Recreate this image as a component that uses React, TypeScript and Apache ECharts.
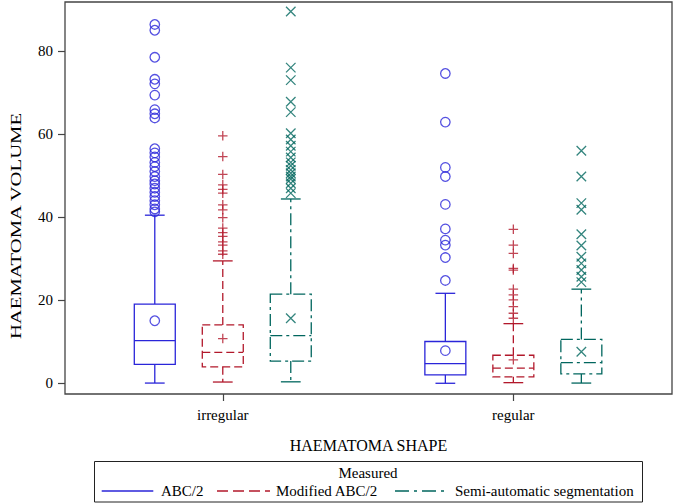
import React, { useEffect, useRef } from 'react';
import * as echarts from 'echarts';

// ---------- data ----------
const categories = ['irregular', 'regular'];
const methods = ['ABC/2', 'Modified ABC/2', 'Semi-automatic segmentation'];
const yTicks = [0, 20, 40, 60, 80];

// box stats per category: [min, q1, median, q3, max]
const abcBox = [
  [0.1, 4.6, 10.3, 19.1, 40.5],
  [0.05, 2.05, 4.8, 10.1, 21.7],
];
const abcMean = [15.1, 7.9];
const modBox = [
  [0.35, 4.0, 7.5, 14.1, 29.5],
  [0.2, 1.6, 3.7, 6.8, 14.4],
];
const modMean = [10.8, 5.7];
const semiBox = [
  [0.4, 5.4, 11.5, 21.5, 44.4],
  [0.1, 2.3, 5.0, 10.6, 22.7],
];
const semiMean = [15.7, 7.65];

// outliers per category
const abcOutliers = [
  [86.4, 85.0, 78.5, 73.2, 72.1, 69.4, 65.9, 64.9, 63.9, 56.5, 55.5, 54.5, 53.2, 52.2, 51.0, 49.8, 48.8, 48.0, 47.0, 46.0, 45.0, 44.0, 43.0, 42.0, 41.3],
  [74.6, 62.9, 52.0, 49.8, 43.1, 37.2, 34.5, 33.3, 30.3, 24.8],
];
const modOutliers = [
  [59.6, 54.6, 50.3, 47.8, 46.7, 45.8, 43.0, 41.8, 39.9, 37.4, 36.3, 35.4, 34.1, 33.3, 31.9, 31.1],
  [37.1, 33.3, 31.3, 27.7, 27.3, 22.7, 21.3, 20.1, 18.5, 16.9, 15.7],
];
const semiOutliers = [
  [89.5, 76.0, 73.0, 67.8, 65.3, 60.2, 58.7, 57.2, 55.8, 54.4, 53.2, 52.4, 51.4, 50.6, 49.8, 49.2, 48.2, 47.0, 45.8],
  [56.0, 49.8, 43.4, 41.8, 35.9, 33.2, 30.5, 28.9, 27.3, 25.7, 24.4],
];

// ---------- styles ----------
const FONT = 'Liberation Serif';
const COLORS = ['#2A25D9', '#B2182B', '#01665E'];
const OFFSETS = [-0.234, 0, 0.234];
const DASHES: any[] = [null, [8, 4], [12, 4, 3, 4]];
const LEGEND_DASHES: any[] = [null, [11, 5], [14, 5, 3, 5]];
const SYMBOLS = ['circle', 'path://M5,0L5,10M0,5L10,5', 'path://M0,0L10,10M10,0L0,10'];
const BOX_HALF = 0.0705;
const CAP_HALF = 0.034;
const LW = 1.3;

const allBoxes = [abcBox, modBox, semiBox];
const allMeans = [abcMean, modMean, semiMean];
const allOutliers = [abcOutliers, modOutliers, semiOutliers];

function buildSeries() {
  const series: any[] = [];
  methods.forEach((name, m) => {
    const color = COLORS[m];
    const dash = DASHES[m];
    const data = allBoxes[m].map((b, c) => [c + OFFSETS[m], ...b]);
    series.push({
      type: 'custom',
      name: name,
      data,
      encode: { x: 0, y: [1, 2, 3, 4, 5] },
      silent: true,
      renderItem: (params: any, api: any) => {
        const xc = api.value(0);
        const mn = api.value(1), q1 = api.value(2), md = api.value(3), q3 = api.value(4), mx = api.value(5);
        const style = { stroke: color, lineWidth: LW, fill: 'none', lineDash: dash };
        const solid = { stroke: color, lineWidth: LW, fill: 'none' };
        const tl = api.coord([xc - BOX_HALF, q3]);
        const br = api.coord([xc + BOX_HALF, q1]);
        const mL = api.coord([xc - BOX_HALF, md]);
        const mR = api.coord([xc + BOX_HALF, md]);
        const cTop = api.coord([xc, q3]);
        const cMax = api.coord([xc, mx]);
        const cBot = api.coord([xc, q1]);
        const cMin = api.coord([xc, mn]);
        const capL1 = api.coord([xc - CAP_HALF, mx]);
        const capR1 = api.coord([xc + CAP_HALF, mx]);
        const capL2 = api.coord([xc - CAP_HALF, mn]);
        const capR2 = api.coord([xc + CAP_HALF, mn]);
        return {
          type: 'group',
          children: [
            { type: 'rect', shape: { x: tl[0], y: tl[1], width: br[0] - tl[0], height: br[1] - tl[1] }, style },
            { type: 'line', shape: { x1: mL[0], y1: mL[1], x2: mR[0], y2: mR[1] }, style },
            { type: 'line', shape: { x1: cTop[0], y1: cTop[1], x2: cMax[0], y2: cMax[1] }, style },
            { type: 'line', shape: { x1: cBot[0], y1: cBot[1], x2: cMin[0], y2: cMin[1] }, style },
            { type: 'line', shape: { x1: capL1[0], y1: capL1[1], x2: capR1[0], y2: capR1[1] }, style: solid },
            { type: 'line', shape: { x1: capL2[0], y1: capL2[1], x2: capR2[0], y2: capR2[1] }, style: solid },
          ],
        };
      },
      z: 2,
    });
    const pts: number[][] = [];
    allMeans[m].forEach((v, c) => pts.push([c + OFFSETS[m], v]));
    allOutliers[m].forEach((arr, c) => arr.forEach((v) => pts.push([c + OFFSETS[m], v])));
    series.push({
      type: 'scatter',
      name: name + ' points',
      data: pts,
      symbol: SYMBOLS[m],
      symbolSize: 9.5,
      silent: true,
      itemStyle: { color: 'rgba(0,0,0,0)', borderColor: color, borderWidth: LW },
      z: 3,
    });
  });
  return series;
}

function buildLegendGraphic() {
  const rowY = 491;
  const lines = [
    [101.7, 153.3, 161],
    [217, 270, 276],
    [395, 445, 455],
  ];
  const els: any[] = [
    {
      type: 'rect',
      shape: { x: 94.5, y: 461.5, width: 548, height: 40.5 },
      style: { fill: 'none', stroke: '#222', lineWidth: 1 },
    },
    {
      type: 'text',
      x: 368,
      y: 473,
      style: { text: 'Measured', fontFamily: FONT, fontSize: 15, fill: '#000', textAlign: 'center', textVerticalAlign: 'middle' },
    },
  ];
  methods.forEach((name, m) => {
    const [x1, x2, tx] = lines[m];
    els.push({
      type: 'line',
      shape: { x1, y1: rowY, x2, y2: rowY },
      style: { stroke: COLORS[m], lineWidth: LW, lineDash: LEGEND_DASHES[m] },
    });
    els.push({
      type: 'text',
      x: tx,
      y: rowY,
      style: { text: name, fontFamily: FONT, fontSize: 15, fill: '#000', textAlign: 'left', textVerticalAlign: 'middle' },
    });
  });
  // y-axis title (stretched along its length like the reference)
  els.push({
    type: 'text',
    x: 16,
    y: 226,
    rotation: Math.PI / 2,
    scaleX: 1.38,
    style: { text: 'HAEMATOMA VOLUME', fontFamily: FONT, fontSize: 15, fill: '#000', textAlign: 'center', textVerticalAlign: 'middle' },
  });
  return els;
}

export default function App() {
  const ref = useRef<HTMLDivElement>(null);
  useEffect(() => {
    if (!ref.current) return;
    const chart = echarts.init(ref.current, undefined, { renderer: 'svg' });
    const axisText = { fontFamily: FONT, fontSize: 15, color: '#000' };
    chart.setOption({
      animation: false,
      backgroundColor: '#fff',
      textStyle: { fontFamily: FONT },
      grid: {
        left: 65,
        right: 3,
        top: 2,
        bottom: 110,
        show: true,
        borderColor: '#444',
        borderWidth: 1.3,
        backgroundColor: 'transparent',
      },
      xAxis: {
        type: 'value',
        min: -0.543,
        max: 1.546,
        splitLine: { show: false },
        axisLine: { show: false, onZero: false },
        axisTick: { show: true, customValues: [0, 1], length: 7, lineStyle: { color: '#444', width: 1.2 } },
        axisLabel: {
          customValues: [0, 1],
          formatter: (v: number) => categories[Math.round(v)] ?? '',
          margin: 13,
          ...axisText,
        },
        name: 'HAEMATOMA SHAPE',
        nameLocation: 'middle',
        nameGap: 43,
        nameTextStyle: { fontFamily: FONT, fontSize: 16, color: '#000' },
      },
      yAxis: {
        type: 'value',
        min: -2.53,
        max: 91.8,
        splitLine: { show: false },
        axisLine: { show: false, onZero: false },
        axisTick: { show: true, customValues: yTicks, length: 7, lineStyle: { color: '#444', width: 1.2 } },
        axisLabel: { customValues: yTicks, margin: 12, ...axisText },
      },
      graphic: buildLegendGraphic(),
      series: buildSeries(),
    });
    return () => chart.dispose();
  }, []);
  return <div ref={ref} style={{ position: 'absolute', left: 0, top: 0, width: 675, height: 504 }} />;
}
